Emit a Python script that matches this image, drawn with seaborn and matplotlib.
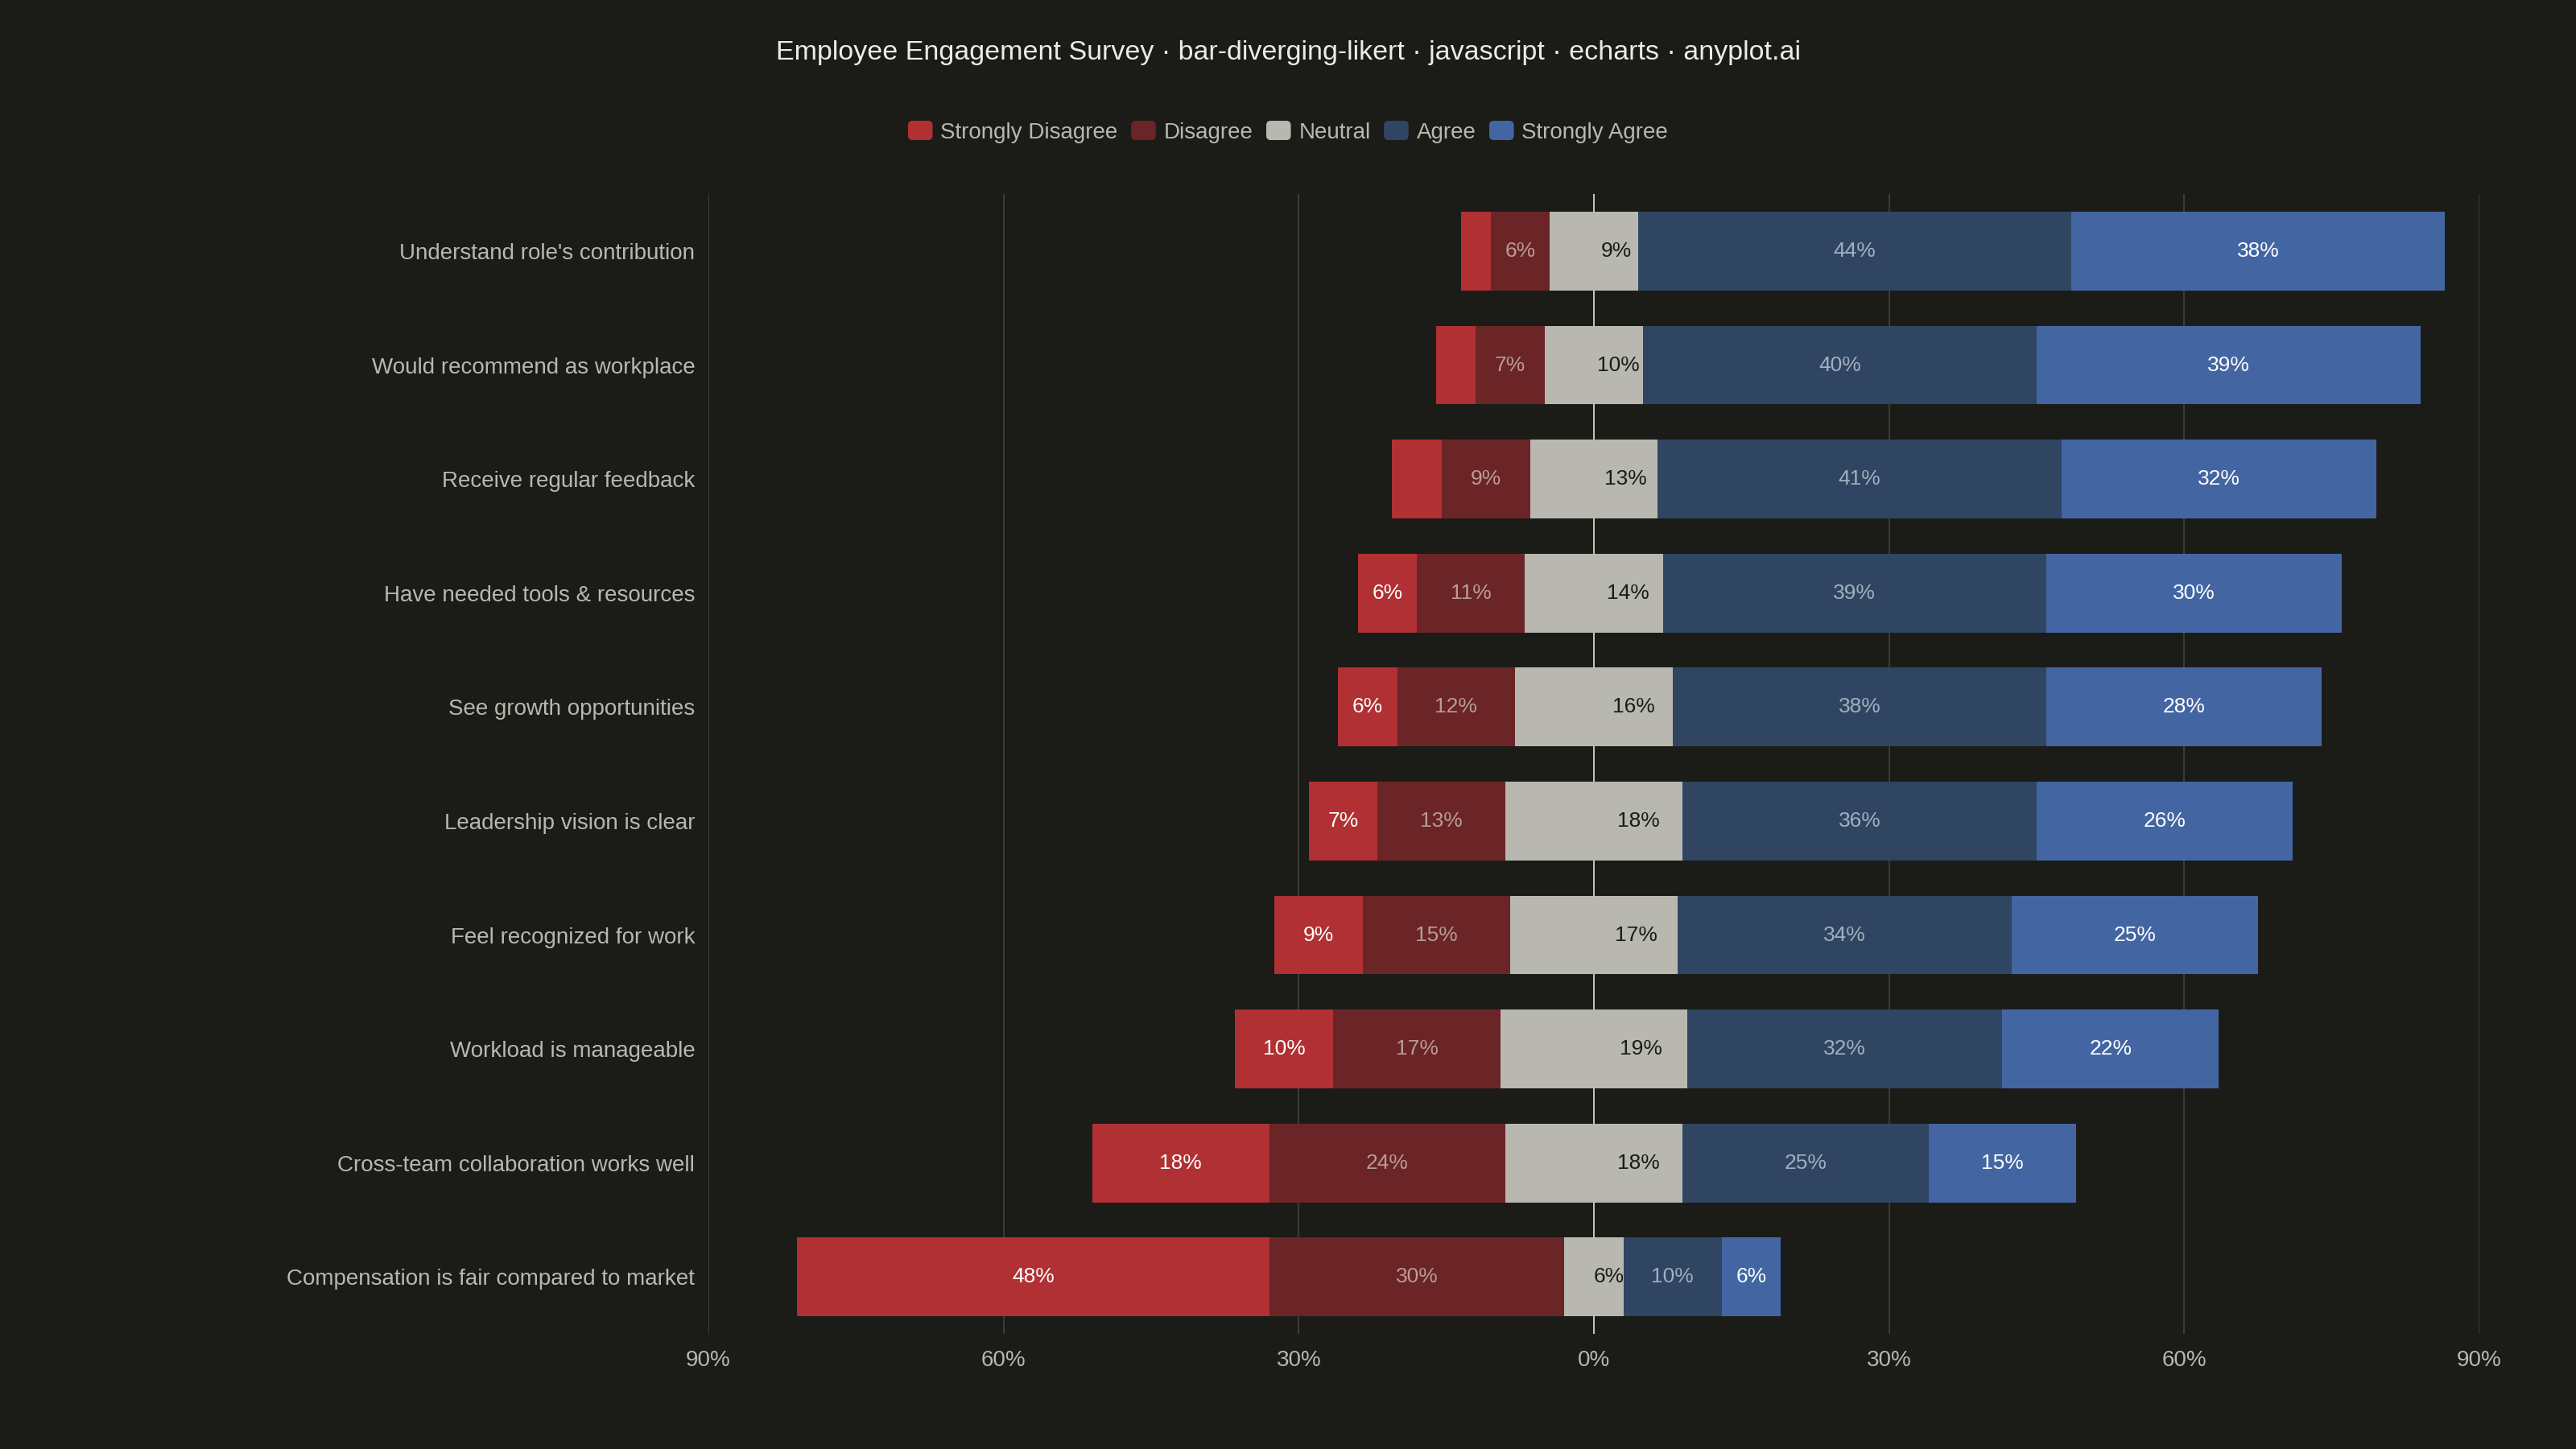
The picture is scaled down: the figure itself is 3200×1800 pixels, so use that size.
import numpy as np
import pandas as pd
import matplotlib
matplotlib.use("Agg")
import matplotlib.pyplot as plt
import seaborn as sns
from matplotlib.patches import Patch, FancyBboxPatch
from matplotlib.legend_handler import HandlerPatch

# ---- data ----
questions = [
    "Understand role's contribution",
    "Would recommend as workplace",
    "Receive regular feedback",
    "Have needed tools & resources",
    "See growth opportunities",
    "Leadership vision is clear",
    "Feel recognized for work",
    "Workload is manageable",
    "Cross-team collaboration works well",
    "Compensation is fair compared to market",
]
strongly_disagree = [3, 4, 5, 6, 6, 7, 9, 10, 18, 48]
disagree = [6, 7, 9, 11, 12, 13, 15, 17, 24, 30]
neutral = [9, 10, 13, 14, 16, 18, 17, 19, 18, 6]
agree = [44, 40, 41, 39, 38, 36, 34, 32, 25, 10]
strongly_agree = [38, 39, 32, 30, 28, 26, 25, 22, 15, 6]
levels = ["Strongly Disagree", "Disagree", "Neutral", "Agree", "Strongly Agree"]
x_ticks = [-90, -60, -30, 0, 30, 60, 90]

# ---- style ----
BG = "#1b1b17"
colors = {
    "Strongly Disagree": "#b03033",
    "Disagree": "#6b2526",
    "Neutral": "#b8b8b0",
    "Agree": "#2f4562",
    "Strongly Agree": "#4366a3",
}
label_colors = {
    "Strongly Disagree": "#ffffff",
    "Disagree": "#b89c9a",
    "Neutral": "#1b1b17",
    "Agree": "#a3afc0",
    "Strongly Agree": "#ffffff",
}
TEXT = "#b8b8b0"

sns.set_theme(style="dark")
plt.rcParams["font.family"] = ["Liberation Sans", "DejaVu Sans"]

df = pd.DataFrame({
    "question": questions,
    "sd": strongly_disagree,
    "d": disagree,
    "n": neutral,
    "a": agree,
    "sa": strongly_agree,
})
half = df["n"] / 2
df["left_sd"] = -(half + df["d"] + df["sd"])
df["left_d"] = -(half + df["d"])
df["left_n"] = -half
df["right_n"] = half
df["right_a"] = half + df["a"]
df["right_sa"] = half + df["a"] + df["sa"]

fig = plt.figure(figsize=(32, 18), dpi=100, facecolor=BG)
ax = fig.add_axes([0.275, 0.0794, 0.6875, 0.7866])
ax.set_facecolor(BG)

bar_w = 0.69
layers = [
    ("left_sd", "Strongly Disagree"),
    ("left_d", "Disagree"),
    ("left_n", "Neutral"),
    ("right_sa", "Strongly Agree"),
    ("right_a", "Agree"),
    ("right_n", "Neutral"),
]
for col, lvl in layers:
    sns.barplot(data=df, x=col, y="question", order=questions, orient="h",
                color=colors[lvl], saturation=1, width=bar_w, errorbar=None,
                linewidth=0, ax=ax, zorder=3)

# grid lines
for t in x_ticks:
    if t == 0:
        ax.axvline(0, color="#c8c8c0", lw=1.4, zorder=1)
    else:
        ax.axvline(t, color="#3c3c37", lw=1.4, zorder=1)

# segment labels
for i in range(len(questions)):
    sd, d, n, a, sa = (strongly_disagree[i], disagree[i], neutral[i],
                       agree[i], strongly_agree[i])
    h = n / 2
    items = [
        ("Strongly Disagree", sd, -(h + d + sd / 2)),
        ("Disagree", d, -(h + d / 2)),
        ("Neutral", n, h / 2),
        ("Agree", a, h + a / 2),
        ("Strongly Agree", sa, h + a + sa / 2),
    ]
    for lvl, v, xc in items:
        if v > 5:
            ax.text(xc, i, f"{v}%", ha="center", va="center", fontsize=19,
                    color=label_colors[lvl], zorder=5)

ax.set_xlim(-90, 90)
ax.set_ylim(len(questions) - 0.5, -0.5)
ax.set_xticks(x_ticks)
ax.set_xticklabels([f"{abs(t)}%" for t in x_ticks])
ax.set_xlabel("")
ax.set_ylabel("")
ax.tick_params(axis="x", colors=TEXT, labelsize=20, length=0, pad=14)
ax.tick_params(axis="y", colors=TEXT, labelsize=20, length=0, pad=12)
for lab in ax.get_xticklabels() + ax.get_yticklabels():
    lab.set_color(TEXT)
for s in ax.spines.values():
    s.set_visible(False)
ax.grid(False)

fig.text(0.5, 0.9635, "Employee Engagement Survey · bar-diverging-likert · javascript · echarts · anyplot.ai",
         ha="center", va="center", fontsize=24.5, color="#ecece4")


class HandlerRound(HandlerPatch):
    def create_artists(self, legend, orig_handle, xdescent, ydescent, width,
                       height, fontsize, trans):
        p = FancyBboxPatch((-xdescent, -ydescent), width, height,
                           boxstyle="round,pad=0,rounding_size=4",
                           fc=orig_handle.get_facecolor(), ec="none",
                           transform=trans)
        return [p]


handles = [Patch(facecolor=colors[l], label=l) for l in levels]
leg = fig.legend(handles=handles, loc="center", bbox_to_anchor=(0.5, 0.909),
                 ncol=5, frameon=False, fontsize=20, handlelength=1.1,
                 handleheight=0.95, handletextpad=0.35, columnspacing=0.6,
                 handler_map={Patch: HandlerRound()})
for t in leg.get_texts():
    t.set_color(TEXT)

fig.savefig("out.png", dpi=100, facecolor=BG)
